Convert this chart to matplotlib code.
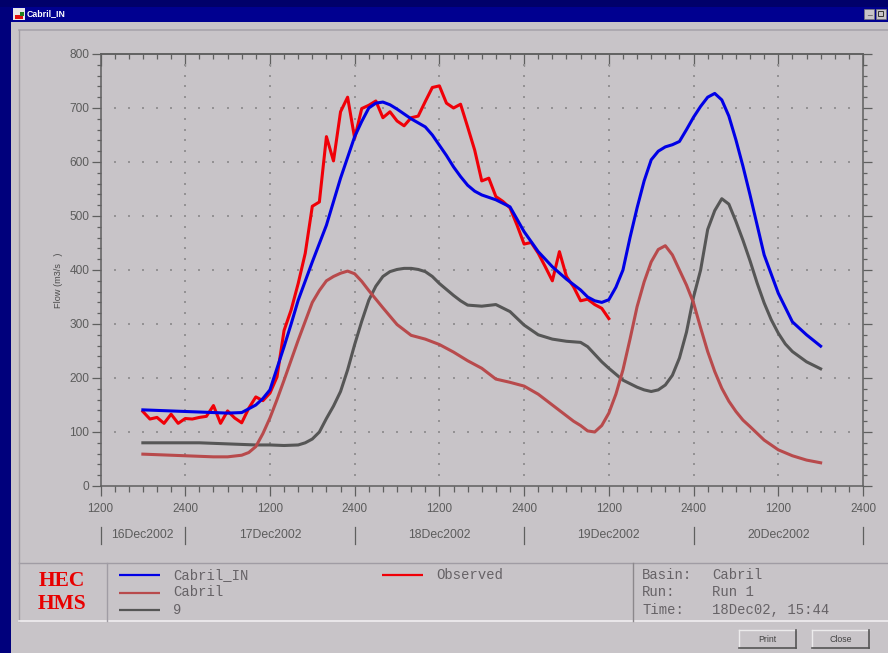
import numpy as np
import matplotlib
matplotlib.use("Agg")
import matplotlib.pyplot as plt
from matplotlib.patches import Rectangle
from matplotlib.transforms import blended_transform_factory

W, H = 888, 653
DPI = 100

obs_hours = list(range(6, 73))
observed = [138, 124, 127, 116, 133, 116, 125, 124, 127, 129, 149, 116, 139, 126, 117, 144,
            165, 158, 172, 202, 288, 326, 375, 431, 518, 526, 647, 602, 693, 720, 644, 699,
            705, 713, 682, 693, 676, 667, 682, 685, 712, 738, 741, 709, 700, 707, 665, 622,
            565, 570, 536, 527, 515, 483, 448, 451, 431, 406, 380, 434, 388, 369, 343, 346,
            336, 329, 310]

in_hours = [6, 8, 10, 12, 14, 16, 18, 20, 21, 22, 23, 24, 25, 26, 27, 28, 30, 32, 34, 36, 37, 38,
            39, 40, 41, 42, 44, 46, 47, 48, 49, 50, 51, 52, 53, 54, 56, 58, 60, 62, 64, 66, 68,
            69, 70, 71, 72, 73, 74, 75, 76, 77, 78, 79, 80, 81, 82, 83, 84, 85, 86, 87, 88, 89,
            90, 91, 92, 94, 96, 98, 100, 102]
cabril_in = [141, 140, 139, 138, 137, 136, 135, 136, 143, 150, 162, 178, 218, 258, 300, 344, 415,
             483, 570, 647, 675, 700, 709, 711, 706, 698, 680, 665, 650, 631, 612, 591, 573, 557,
             546, 539, 530, 517, 471, 434, 406, 383, 363, 350, 343, 340, 345, 368, 400, 460, 515,
             565, 604, 620, 628, 632, 638, 660, 683, 703, 720, 727, 715, 685, 641, 592, 539, 428,
             357, 304, 280, 259]

cab_hours = [6, 8, 10, 12, 14, 16, 18, 20, 21, 22, 23, 24, 25, 26, 27, 28, 29, 30, 31, 32, 33, 34,
             35, 36, 37, 38, 40, 42, 44, 46, 48, 50, 52, 54, 56, 58, 60, 62, 64, 66, 67, 68, 69,
             70, 71, 72, 73, 74, 75, 76, 77, 78, 79, 80, 81, 82, 83, 84, 85, 86, 87, 88, 89, 90,
             91, 92, 94, 96, 98, 100, 102]
cabril = [59, 58, 57, 56, 55, 54, 54, 57, 62, 73, 97, 126, 160, 196, 233, 270, 305, 340, 362, 380,
          388, 394, 398, 393, 379, 362, 330, 299, 279, 272, 262, 248, 232, 218, 198, 192, 185,
          170, 150, 130, 120, 112, 102, 100, 112, 135, 170, 215, 272, 332, 378, 415, 438, 445,
          428, 400, 372, 339, 293, 249, 212, 181, 157, 138, 122, 110, 85, 67, 56, 48, 43]

j9_hours = [6, 14, 18, 22, 24, 26, 28, 29, 30, 31, 32, 33, 34, 35, 36, 37, 38, 39, 40, 41, 42, 43,
            44, 45, 46, 47, 48, 49, 50, 51, 52, 54, 56, 58, 60, 62, 64, 66, 68, 69, 71, 72, 74,
            76, 77, 78, 79, 80, 81, 82, 83, 84, 85, 86, 87, 88, 89, 90, 91, 92, 93, 94, 95, 96,
            97, 98, 100, 102]
junction9 = [80, 80, 78, 76, 76, 75, 76, 80, 87, 100, 125, 148, 175, 215, 262, 305, 344, 370, 388,
             397, 401, 403, 403, 401, 397, 388, 375, 364, 353, 343, 335, 333, 336, 323, 298, 280,
             272, 268, 266, 258, 230, 218, 196, 183, 178, 175, 178, 187, 205, 237, 285, 350, 400,
             475, 510, 532, 522, 490, 455, 417, 376, 339, 308, 283, 263, 249, 230, 217]

major_hours = list(range(0, 109, 12))
minor_hours = list(range(0, 109, 2))
hour_labels = ["1200" if i % 2 == 0 else "2400" for i in range(len(major_hours))]
major_flow = list(range(0, 801, 100))
minor_flow = list(range(0, 801, 20))
date_labels = ["16Dec2002", "17Dec2002", "18Dec2002", "19Dec2002", "20Dec2002"]
date_centers = [6, 24, 48, 72, 96]
date_edges = [0, 12, 36, 60, 84, 108]

BG = "#c8c4c8"
NAVY = "#00007c"
TXT = "#5c5c5c"
AXC = "#5f5f5f"
C_IN = "#0000e6"
C_OBS = "#f00008"
C_CAB = "#b84a4c"
C_9 = "#565656"
SANS = "Liberation Sans"
MONO = "Liberation Mono"
LW = 2.2

fig = plt.figure(figsize=(W / DPI, H / DPI), dpi=DPI, facecolor=NAVY)

# window chrome, laid out in pixels
c = fig.add_axes([0, 0, 1, 1], zorder=0)
c.set_xlim(0, W)
c.set_ylim(H, 0)
c.axis("off")
c.add_patch(Rectangle((0, 0), W, 7, fc="#00006a", ec="none"))
c.add_patch(Rectangle((11, 7), W - 11, 15, fc="#000090", ec="none"))
c.add_patch(Rectangle((11, 22), W - 11, H - 22, fc=BG, ec="none"))
c.plot([19, W], [30, 30], color="#a8a4ac", lw=1.2)
c.plot([19, 19], [30, 621], color="#a09ca4", lw=1.0)
c.plot([19, W], [562.5, 562.5], color="#a09ca4", lw=1.0)
c.plot([19, W], [621, 621], color="#f0eef0", lw=1.2)
c.plot([106.5, 106.5], [562.5, 621], color="#a09ca4", lw=1.0)
c.plot([632.5, 632.5], [562.5, 621], color="#8c888c", lw=1.0)

# title bar
c.add_patch(Rectangle((13, 8), 12, 12, fc="#e8e8e8", ec="none"))
c.add_patch(Rectangle((15, 15), 8, 4, fc="#e01010", ec="none"))
c.add_patch(Rectangle((20, 12), 4, 4, fc="#208020", ec="none"))
c.text(27, 14, "Cabril_IN", color="white", fontsize=6.3, fontweight="bold", family=SANS,
       va="center", ha="left")
for x0 in [864, 876]:
    c.add_patch(Rectangle((x0, 9), 10, 10, fc=BG, ec="#777777", lw=0.5))
c.text(869, 13, "_", color="#222222", fontsize=6, ha="center", va="center", family=SANS)
c.add_patch(Rectangle((878, 11), 5, 5, fc="none", ec="#333333", lw=0.7))

# legend / info panel
c.text(61.5, 581, "HEC", color="#e80000", fontsize=15.5, family="Liberation Serif", fontweight="bold",
       ha="center", va="center")
c.text(61.5, 604, "HMS", color="#e80000", fontsize=15.5, family="Liberation Serif", fontweight="bold",
       ha="center", va="center")
legend_rows = [(119, 160, 575, 173, "Cabril_IN", C_IN), (382, 423, 575, 436, "Observed", C_OBS),
               (119, 160, 592.5, 173, "Cabril", C_CAB), (119, 160, 609.5, 173, "9", C_9)]
for x0, x1, y, tx, s, col in legend_rows:
    c.plot([x0, x1], [y, y], color=col, lw=1.6, solid_capstyle="butt")
    c.text(tx, y, s, color="#666266", fontsize=10, family=MONO, va="center", ha="left")
for y, a, b in [(575, "Basin:", "Cabril"), (592.5, "Run:", "Run 1"), (610, "Time:", "18Dec02, 15:44")]:
    c.text(642, y, a, color="#666266", fontsize=10, family=MONO, va="center", ha="left")
    c.text(712, y, b, color="#666266", fontsize=10, family=MONO, va="center", ha="left")

# buttons
for x0, x1, s in [(739, 796, "Print"), (812, 869, "Close")]:
    c.add_patch(Rectangle((x0, 630), x1 - x0, 18, fc=BG, ec="none"))
    c.plot([x0, x1], [630, 630], color="#ecebec", lw=1)
    c.plot([x0, x0], [630, 648], color="#ecebec", lw=1)
    c.plot([x0, x1], [648, 648], color="#555555", lw=1.2)
    c.plot([x1, x1], [630, 648], color="#555555", lw=1.2)
    c.text((x0 + x1) / 2, 639, s, color="#444444", fontsize=6.3, family=SANS, ha="center", va="center")

# plot
L, R, T, B = 100.5, 863.0, 54.0, 486.0
ax = fig.add_axes([L / W, 1 - B / H, (R - L) / W, (B - T) / H], zorder=1)
ax.patch.set_alpha(0)
ax.set_xlim(0, 108)
ax.set_ylim(0, 800)
for s in ax.spines.values():
    s.set_color(AXC)
    s.set_linewidth(1.1)

ax.set_xticks(major_hours, hour_labels)
ax.set_xticks(minor_hours, minor=True)
ax.set_yticks(major_flow)
ax.set_yticks(minor_flow, minor=True)
ax.tick_params(axis="x", which="major", direction="out", length=7, width=0.9, color=AXC,
               labelcolor=TXT, labelsize=8.4, pad=5.5, top=False)
ax.tick_params(axis="x", which="minor", direction="out", length=4, width=0.9, color=AXC, top=False)
ax.tick_params(axis="y", which="major", direction="out", length=6.5, width=0.9, color=AXC,
               labelcolor=TXT, labelsize=8.6, pad=1.5, right=True)
ax.tick_params(axis="y", which="minor", direction="out", length=3.2, width=0.9, color=AXC, right=True)
for t in ax.get_xticklabels() + ax.get_yticklabels():
    t.set_family(SANS)

top = ax.secondary_xaxis("top")
top.set_xticks(major_hours, [""] * len(major_hours))
top.set_xticks(minor_hours, minor=True)
top.tick_params(axis="x", which="major", direction="in", length=8.6, width=0.9, color=AXC)
top.tick_params(axis="x", which="minor", direction="in", length=3.6, width=0.9, color=AXC)
top.spines["top"].set_color(AXC)
top.spines["top"].set_linewidth(1.1)

# dotted grid
mh, mf = np.meshgrid(major_hours[1:-1], minor_flow[1:-1])
ax.scatter(mh.ravel(), mf.ravel(), s=1.4, marker="s", color="#949294", lw=0, zorder=1)
mh, mf = np.meshgrid(minor_hours[1:-1], major_flow[1:-1])
ax.scatter(mh.ravel(), mf.ravel(), s=1.4, marker="s", color="#949294", lw=0, zorder=1)

ax.plot(j9_hours, junction9, color=C_9, lw=LW, zorder=3, solid_joinstyle="round")
ax.plot(cab_hours, cabril, color=C_CAB, lw=LW, zorder=3, solid_joinstyle="round")
ax.plot(obs_hours, observed, color=C_OBS, lw=LW, zorder=4, solid_joinstyle="round")
ax.plot(in_hours, cabril_in, color=C_IN, lw=LW, zorder=5, solid_joinstyle="round")

ax.set_ylabel("Flow (m3/s   )", fontsize=6.6, color="#4c4c4c", family=SANS, labelpad=0)
ax.yaxis.set_label_coords((63 - L) / (R - L), (B - 280) / (B - T))

tr = blended_transform_factory(ax.transData, ax.transAxes)
for x, s in zip(date_centers, date_labels):
    ax.text(x, (B - 535) / (B - T), s, transform=tr, color=TXT, fontsize=8.8, family=SANS,
            ha="center", va="center")
for x in date_edges:
    ax.plot([x, x], [(B - 527) / (B - T), (B - 544) / (B - T)], transform=tr, color=AXC,
            lw=0.9, clip_on=False)

fig.savefig("out.png", dpi=DPI, facecolor=NAVY)
